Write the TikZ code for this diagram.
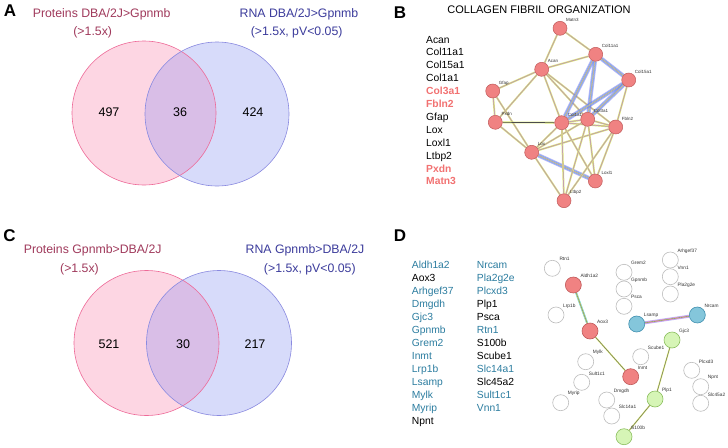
\documentclass[tikz,border=0pt]{standalone}
\usepackage{fontspec}
\setmainfont{Liberation Sans}
\usetikzlibrary{backgrounds}
\definecolor{pinkF}{HTML}{FDD6E3}
\definecolor{pinkD}{HTML}{EE6A98}
\definecolor{bluF}{HTML}{D7DBFA}
\definecolor{bluD}{HTML}{8A8AE0}
\definecolor{ovlF}{HTML}{D9BEE7}
\definecolor{tRose}{HTML}{A03A5C}
\definecolor{tBlue}{HTML}{3C3C9C}
\definecolor{salm}{HTML}{F27272}
\definecolor{teal}{HTML}{2C7DA0}
\definecolor{nred}{HTML}{F08282}
\definecolor{nredd}{HTML}{C05A5A}
\definecolor{nblu}{HTML}{84C6DB}
\definecolor{nblud}{HTML}{3F8FAF}
\definecolor{ngrn}{HTML}{D6F5B6}
\definecolor{ngrnd}{HTML}{8CBF5F}
\definecolor{ngry}{HTML}{BDBDBD}
\definecolor{eylw}{HTML}{DCEA7A}
\definecolor{emag}{HTML}{E07AE0}
\definecolor{eblu}{HTML}{7878F0}
\definecolor{ecya}{HTML}{60CFE0}
\newcommand{\fs}[1]{\fontsize{#1}{#1}\selectfont}
\newcommand{\stredge}[2]{%
  \draw[eylw, line width=1.8pt] (#1)--(#2);
  \draw[emag, opacity=0.6, line width=0.7pt] (#1)--(#2);
  \draw[black!40, line width=0.2pt] (#1)--(#2);}
\newcommand{\strthick}[2]{%
  \draw[eblu, opacity=0.55, line width=4.2pt] (#1)--(#2);
  \draw[eblu!70!cyan, opacity=0.6, line width=2.4pt] (#1)--(#2);
  \draw[eylw, line width=0.9pt] (#1)--(#2);
  \draw[emag, opacity=0.6, line width=0.5pt] (#1)--(#2);
  \draw[black!40, line width=0.2pt] (#1)--(#2);}
\newcommand{\bnet}[4]{%
  \node[bnode,#1] (#2) at (#3) {};
  \node[nlbl] (t#2) at ([shift={(6,-8)}]#2.center) {#4};}
\newcommand{\dnet}[4]{%
  \node[dnode,#1] (#2) at (#3) {};
  \node[nlbl, font=\fs{4.8}] (t#2) at ([shift={(7,-9)}]#2.center) {#4};}
\begin{document}
\begin{tikzpicture}[x=1pt,y=-1pt,
  ttl/.style={font=\fs{12.3}, anchor=center, inner sep=0},
  num/.style={font=\fs{12.5}, anchor=center, inner sep=0},
  panel/.style={font=\bfseries\fs{17}, anchor=center, inner sep=0},
  lst/.style={font=\fs{10.3}, anchor=base west, inner sep=0},
  hl/.style={font=\bfseries\fs{10.3}, text=salm},
  nlbl/.style={font=\fs{4.5}, text=black!80, anchor=west, inner sep=0},
  bnode/.style={circle, minimum size=14, inner sep=0, fill=nred, draw=nredd, line width=0.5pt},
  dnode/.style={circle, minimum size=16, inner sep=0, fill=white, draw=ngry, line width=0.6pt},
  rednd/.style={fill=nred, draw=nredd},
  blund/.style={fill=nblu, draw=nblud},
  grnnd/.style={fill=ngrn, draw=ngrnd}]
\useasboundingbox (0,0) rectangle (728,447);

% ---------- Panel A ----------
\fill[pinkF] (144,113) circle[radius=72];
\fill[bluF] (217,114) circle[radius=72];
\begin{scope}
  \clip (144,113) circle[radius=72];
  \fill[ovlF] (217,114) circle[radius=72];
\end{scope}
\draw[pinkD, line width=0.6pt] (144,113) circle[radius=72];
\draw[bluD, line width=0.6pt] (217,114) circle[radius=72];
\node[panel] (pA) at (10,11) {A};
\node[ttl, text=tRose] (a1) at (101.7,14) {Proteins DBA/2J>Gpnmb};
\node[ttl, text=tRose] (a2) at (92.7,32.3) {(>1.5x)};
\node[ttl, text=tBlue] (a3) at (299,14) {RNA DBA/2J>Gpnmb};
\node[ttl, text=tBlue] (a4) at (296.7,32) {(>1.5x, pV<0.05)};
\node[num] (n1) at (109,112) {497};
\node[num] (n2) at (180,112) {36};
\node[num] (n3) at (253,112) {424};

% ---------- Panel C ----------
\fill[pinkF] (146.5,343) circle[radius=72.5];
\fill[bluF] (219,343) circle[radius=72.5];
\begin{scope}
  \clip (146.5,343) circle[radius=72.5];
  \fill[ovlF] (219,343) circle[radius=72.5];
\end{scope}
\draw[pinkD, line width=0.6pt] (146.5,343) circle[radius=72.5];
\draw[bluD, line width=0.6pt] (219,343) circle[radius=72.5];
\node[panel] (pC) at (9.5,236) {C};
\node[ttl, text=tRose] (c1) at (92.7,250) {Proteins Gpnmb>DBA/2J};
\node[ttl, text=tRose] (c2) at (79.5,269) {(>1.5x)};
\node[ttl, text=tBlue] (c3) at (305,250) {RNA Gpnmb>DBA/2J};
\node[ttl, text=tBlue] (c4) at (309.8,269) {(>1.5x, pV<0.05)};
\node[num] (m1) at (109,344) {521};
\node[num] (m2) at (183,344) {30};
\node[num] (m3) at (255,344) {217};

% ---------- Panel B ----------
\node[panel] (pB) at (400,13) {B};
\node[font=\fs{11}, anchor=center, inner sep=0] (bt) at (539,9.5) {COLLAGEN FIBRIL ORGANIZATION};
\foreach \t/\s [count=\i] in {Acan/,Col11a1/,Col15a1/,Col1a1/,Col3a1/hl,Fbln2/hl,Gfap/,Lox/,Loxl1/,Ltbp2/,Pxdn/hl,Matn3/hl}
  \node[lst, \s] (lb\i) at (426,{39.3+12.9*(\i-1)+3.7}) {\t};

\bnet{}{Matn3}{560,28.3}{Matn3}
\bnet{}{Col11a1}{595.7,54.3}{Col11a1}
\bnet{}{Acan}{541.7,69.3}{Acan}
\bnet{}{Col15a1}{628.7,80}{Col15a1}
\bnet{}{Gfap}{492.7,91}{Gfap}
\bnet{}{Pxdn}{495.3,122.3}{Pxdn}
\bnet{}{Col1a1}{561.7,122.7}{Col1a1}
\bnet{}{Col3a1}{587.7,119.3}{Col3a1}
\bnet{}{Fbln2}{615.7,127}{Fbln2}
\bnet{}{Lox}{531.7,152.3}{Lox}
\bnet{}{Loxl1}{595.3,181}{Loxl1}
\bnet{}{Ltbp2}{564,200.7}{Ltbp2}

% ---------- Panel D ----------
\node[panel] (pD) at (400,236) {D};
\foreach \t/\c [count=\i] in {Aldh1a2/teal,Aox3/black,Arhgef37/teal,Dmgdh/teal,Gjc3/teal,Gpnmb/teal,Grem2/teal,Inmt/teal,Lrp1b/teal,Lsamp/teal,Mylk/teal,Myrip/teal,Npnt/black}
  \node[lst, text=\c] (ld\i) at (411.7,{265+12.95*(\i-1)+3.7}) {\t};
\foreach \t/\c [count=\i] in {Nrcam/teal,Pla2g2e/teal,Plcxd3/teal,Plp1/black,Psca/black,Rtn1/teal,S100b/black,Scube1/black,Slc14a1/teal,Slc45a2/black,Sult1c1/teal,Vnn1/teal}
  \node[lst, text=\c] (le\i) at (476.7,{265+12.95*(\i-1)+3.7}) {\t};

\dnet{}{Rtn1}{552.3,268.3}{Rtn1}
\dnet{rednd}{Aldh1a2}{573.3,285}{Aldh1a2}
\dnet{}{Lrp1b}{556,315}{Lrp1b}
\dnet{rednd}{Aox3}{590,331}{Aox3}
\dnet{}{Grem2}{624,272.3}{Grem2}
\dnet{}{Gpnmb}{624,289}{Gpnmb}
\dnet{}{Psca}{624,306.3}{Psca}
\dnet{}{Arhgef37}{670.3,260}{Arhgef37}
\dnet{}{Vnn1}{670.3,276.7}{Vnn1}
\dnet{}{Pla2g2e}{670.3,294}{Pla2g2e}
\dnet{blund}{Lsamp}{636.7,324}{Lsamp}
\dnet{blund}{Nrcam}{697.3,315}{Nrcam}
\dnet{grnnd}{Gjc3}{672,340}{Gjc3}
\dnet{}{Scube1}{640.7,356.7}{Scube1}
\dnet{}{Mylk}{585.7,361.7}{Mylk}
\dnet{rednd}{Inmt}{630.7,376.7}{Inmt}
\dnet{}{Plcxd3}{691.7,370.3}{Plcxd3}
\dnet{}{Sult1c1}{581.7,382.3}{Sult1c1}
\dnet{}{Npnt}{700.7,386.7}{Npnt}
\dnet{}{Slc45a2}{700.7,403.3}{Slc45a2}
\dnet{}{Myrip}{560.7,402.7}{Myrip}
\dnet{}{Dmgdh}{606.7,400}{Dmgdh}
\dnet{grnnd}{Plp1}{655,399}{Plp1}
\dnet{}{Slc14a1}{611.7,416}{Slc14a1}
\dnet{grnnd}{S100b}{624,436.7}{S100b}

% ---------- edges (behind nodes) ----------
\begin{scope}[on background layer]
  \fill[white] (0,0) rectangle (728,447);
  \stredge{Matn3}{Col11a1}
  \stredge{Matn3}{Acan}
  \stredge{Acan}{Col11a1}
  \stredge{Acan}{Gfap}
  \stredge{Acan}{Pxdn}
  \stredge{Acan}{Col1a1}
  \stredge{Acan}{Col3a1}
  \stredge{Acan}{Fbln2}
  \stredge{Gfap}{Pxdn}
  \stredge{Gfap}{Lox}
  \stredge{Pxdn}{Lox}
  \strthick{Col11a1}{Col1a1}
  \strthick{Col11a1}{Col3a1}
  \strthick{Col11a1}{Col15a1}
  \strthick{Col15a1}{Col1a1}
  \strthick{Col15a1}{Col3a1}
  \stredge{Col15a1}{Fbln2}
  \stredge{Col1a1}{Col3a1}
  \stredge{Col1a1}{Fbln2}
  \stredge{Col3a1}{Fbln2}
  \stredge{Col1a1}{Lox}
  \stredge{Col3a1}{Lox}
  \stredge{Lox}{Fbln2}
  \strthick{Lox}{Loxl1}
  \stredge{Lox}{Ltbp2}
  \stredge{Col1a1}{Ltbp2}
  \stredge{Col3a1}{Ltbp2}
  \stredge{Col1a1}{Loxl1}
  \stredge{Col3a1}{Loxl1}
  \stredge{Fbln2}{Loxl1}
  \stredge{Fbln2}{Ltbp2}
  \draw[eylw, line width=1.8pt] (Pxdn)--(Col1a1);
  \draw[black!70, line width=0.7pt] (Pxdn)--(Col1a1);
  % panel D
  \draw[ecya, line width=2pt] (Aldh1a2)--(Aox3);
  \draw[eylw, line width=1.2pt] (Aldh1a2)--(Aox3);
  \draw[black!60, line width=0.3pt] (Aldh1a2)--(Aox3);
  \draw[eylw, line width=1.4pt] (Aox3)--(Inmt);
  \draw[black!65, line width=0.35pt] (Aox3)--(Inmt);
  \draw[eblu!50, line width=3pt] (Lsamp)--(Nrcam);
  \draw[emag, line width=1.8pt] (Lsamp)--(Nrcam);
  \draw[eylw, line width=0.8pt] (Lsamp)--(Nrcam);
  \draw[black!60, line width=0.3pt] (Lsamp)--(Nrcam);
  \draw[eylw, line width=1.4pt] (Gjc3)--(Plp1);
  \draw[black!65, line width=0.35pt] (Gjc3)--(Plp1);
  \draw[eylw, line width=1.4pt] (Plp1)--(S100b);
  \draw[black!65, line width=0.35pt] (Plp1)--(S100b);
\end{scope}
\end{tikzpicture}
\end{document}
